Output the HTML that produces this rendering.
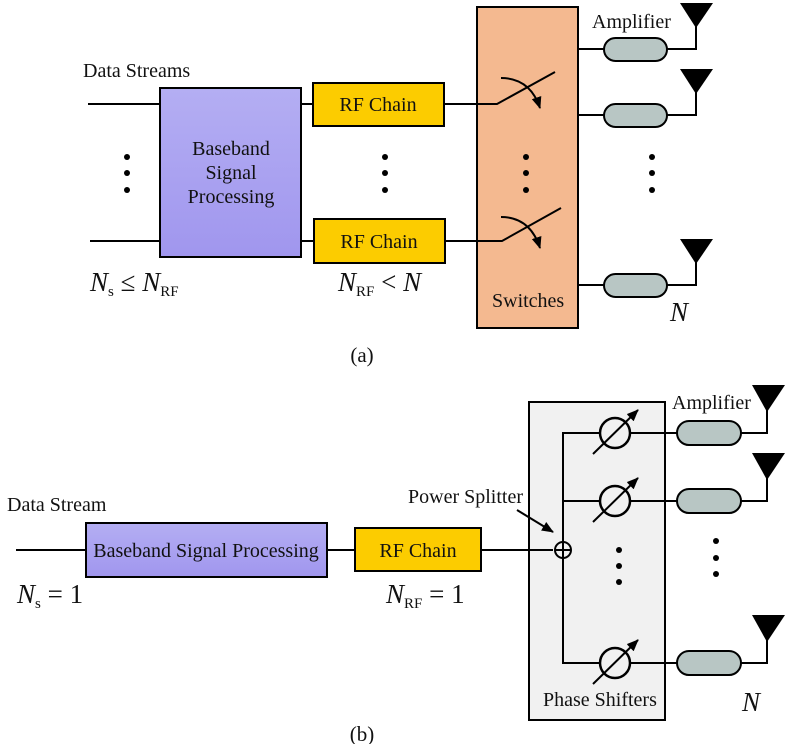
<!DOCTYPE html>
<html><head><meta charset="utf-8"><style>body{margin:0;background:#fff}svg{display:block}</style></head><body>
<svg width="789" height="744" viewBox="0 0 789 744" xmlns="http://www.w3.org/2000/svg" font-family="Liberation Serif, serif">
<defs>
<linearGradient id="bb" x1="0" y1="0" x2="0" y2="1"><stop offset="0" stop-color="#b4aef3"/><stop offset="1" stop-color="#a096ee"/></linearGradient>
<marker id="ah2" markerWidth="12" markerHeight="10" refX="11" refY="5" orient="auto" markerUnits="userSpaceOnUse"><path d="M0,0 L12,5 L0,10 z" fill="#000"/></marker>
</defs>
<g stroke="#000" stroke-width="2" fill="none">
<!-- (a) -->
<line x1="88" y1="104" x2="160" y2="104"/><line x1="90" y1="241" x2="160" y2="241"/>
<rect x="160" y="88" width="141" height="169" fill="url(#bb)"/>
<line x1="301" y1="104" x2="313" y2="104"/><line x1="301" y1="241" x2="314" y2="241"/>
<rect x="313" y="83" width="131" height="43" fill="#fccc00"/>
<rect x="314" y="219" width="131" height="44" fill="#fccc00"/>
<rect x="477" y="7" width="101" height="321" fill="#f4b990"/>
<polyline points="444,104 497,104 555,72"/><polyline points="445,241 502,241 561,208"/>
<path d="M501,78 Q530,78 540,108" marker-end="url(#ah2)"/>
<path d="M501,217 Q530,217 540,248" marker-end="url(#ah2)"/>
<line x1="578" y1="49" x2="604" y2="49"/><line x1="578" y1="115" x2="604" y2="115"/><line x1="578" y1="285" x2="604" y2="285"/>
<rect x="604" y="38" width="63" height="23" rx="11.5" fill="#b8c6c4"/>
<rect x="604" y="104" width="63" height="23" rx="11.5" fill="#b8c6c4"/>
<rect x="604" y="274" width="63" height="23" rx="11.5" fill="#b8c6c4"/>
<polyline points="667,49 696,49 696,25"/><polyline points="667,115 696,115 696,91"/><polyline points="667,285 696,285 696,262"/>
<!-- (b) -->
<line x1="16" y1="550" x2="86" y2="550"/>
<rect x="86" y="523" width="241" height="54" fill="url(#bb)"/>
<line x1="327" y1="550" x2="355" y2="550"/>
<rect x="355" y="528" width="126" height="43" fill="#fccc00"/>
<rect x="529" y="402" width="136" height="318" fill="#f1f1f1"/>
<line x1="481" y1="550" x2="553" y2="550"/>
<polyline points="600,433 563,433 563,663 600,663"/><line x1="563" y1="501" x2="600" y2="501"/>
<circle cx="563" cy="550" r="8" fill="#f1f1f1"/><line x1="555" y1="550" x2="571" y2="550"/><line x1="563" y1="542" x2="563" y2="558"/>
<line x1="517" y1="510" x2="553" y2="532" marker-end="url(#ah2)"/>
<g fill="#f1f1f1" stroke-width="2.5">
<circle cx="615" cy="433" r="15"/><circle cx="615" cy="501" r="15"/><circle cx="615" cy="663" r="15"/></g>
<line x1="593" y1="454" x2="638" y2="410" marker-end="url(#ah2)"/>
<line x1="593" y1="522" x2="638" y2="478" marker-end="url(#ah2)"/>
<line x1="593" y1="684" x2="638" y2="640" marker-end="url(#ah2)"/>
<line x1="630" y1="433" x2="677" y2="433"/><line x1="630" y1="501" x2="677" y2="501"/><line x1="630" y1="663" x2="677" y2="663"/>
<rect x="677" y="421" width="64" height="24" rx="12" fill="#b8c6c4"/>
<rect x="677" y="489" width="64" height="24" rx="12" fill="#b8c6c4"/>
<rect x="677" y="651" width="64" height="24" rx="12" fill="#b8c6c4"/>
<polyline points="741,433 767,433 767,410"/><polyline points="741,501 767,501 767,478"/><polyline points="741,663 767,663 767,640"/>
</g>
<g fill="#000">
<path d="M680,3 L713,3 L696,28z"/><path d="M680,69 L713,69 L696,94z"/><path d="M680,239 L713,239 L696,264z"/>
<path d="M752,385 L785,385 L767,412z"/><path d="M752,453 L785,453 L767,480z"/><path d="M752,615 L785,615 L767,642z"/>
<circle cx="127" cy="157" r="3"/><circle cx="127" cy="173" r="3"/><circle cx="127" cy="190" r="3"/>
<circle cx="385" cy="157" r="3"/><circle cx="385" cy="173" r="3"/><circle cx="385" cy="190" r="3"/>
<circle cx="526" cy="157" r="3"/><circle cx="526" cy="173" r="3"/><circle cx="526" cy="190" r="3"/>
<circle cx="652" cy="157" r="3"/><circle cx="652" cy="173" r="3"/><circle cx="652" cy="190" r="3"/>
<circle cx="619" cy="550" r="3"/><circle cx="619" cy="566" r="3"/><circle cx="619" cy="582" r="3"/>
<circle cx="716" cy="541" r="3"/><circle cx="716" cy="558" r="3"/><circle cx="716" cy="574" r="3"/>
</g>
<g font-size="20" fill="#111">
<text x="83" y="77">Data Streams</text>
<text x="231" y="155" text-anchor="middle">Baseband</text>
<text x="231" y="179" text-anchor="middle">Signal</text>
<text x="231" y="203" text-anchor="middle">Processing</text>
<text x="378" y="111" text-anchor="middle">RF Chain</text>
<text x="379" y="248" text-anchor="middle">RF Chain</text>
<text x="592" y="28">Amplifier</text>
<text x="492" y="307">Switches</text>
<text x="7" y="511">Data Stream</text>
<text x="206" y="557" text-anchor="middle">Baseband Signal Processing</text>
<text x="418" y="557" text-anchor="middle">RF Chain</text>
<text x="408" y="503">Power Splitter</text>
<text x="672" y="409">Amplifier</text>
<text x="543" y="706">Phase Shifters</text>
<text x="362" y="362" text-anchor="middle" font-size="21">(a)</text>
<text x="362" y="741" text-anchor="middle" font-size="21">(b)</text>
</g>
<g font-size="27" fill="#111">
<text x="90" y="291"><tspan font-style="italic">N</tspan><tspan font-size="15" dy="5">s</tspan><tspan dy="-5"> ≤ </tspan><tspan font-style="italic">N</tspan><tspan font-size="15" dy="5">RF</tspan></text>
<text x="338" y="291"><tspan font-style="italic">N</tspan><tspan font-size="15" dy="5">RF</tspan><tspan dy="-5"> &lt; </tspan><tspan font-style="italic">N</tspan></text>
<text x="670" y="321" font-style="italic">N</text>
<text x="17" y="603"><tspan font-style="italic">N</tspan><tspan font-size="15" dy="5">s</tspan><tspan dy="-5"> = 1</tspan></text>
<text x="386" y="603"><tspan font-style="italic">N</tspan><tspan font-size="15" dy="5">RF</tspan><tspan dy="-5"> = 1</tspan></text>
<text x="742" y="711" font-style="italic">N</text>
</g>
</svg>
</body></html>
